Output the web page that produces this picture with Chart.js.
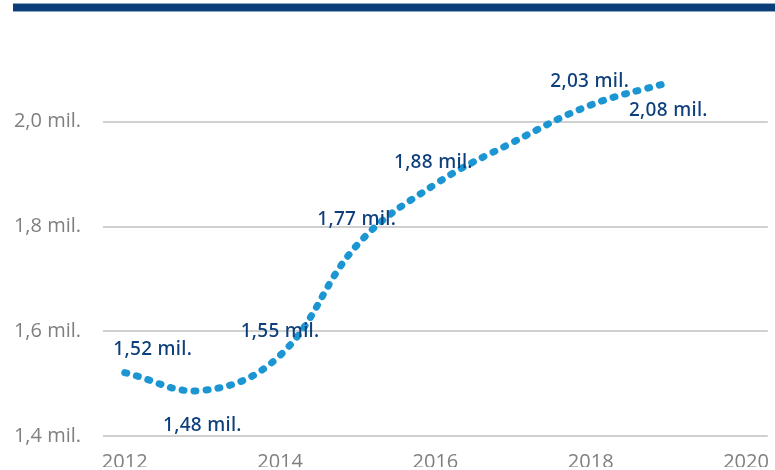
<!DOCTYPE html>
<html>
<head>
<meta charset="utf-8">
<script src="https://cdn.jsdelivr.net/npm/chart.js@4"></script>
<style>
  html, body { margin: 0; padding: 0; background: #fff; }
  #wrap { position: relative; width: 775px; height: 470px; }
  #topbar { position: absolute; left: 13px; top: 4px; width: 762px; height: 7px;
    background: #0b3d78; box-shadow: 0 -1px 0 #8aa6c8, 0 1px 0 #8aa6c8; }
</style>
</head>
<body>
<div id="wrap">
  <div id="topbar"></div>
  <canvas id="chart" width="775" height="470"></canvas>
</div>
<script>
// population, millions
const years = [2012, 2013, 2014, 2015, 2016, 2017, 2018, 2019];
const values = [1.521, 1.487, 1.554, 1.766, 1.881, 1.961, 2.032, 2.075];
const pointLabels = ["1,52 mil.", "1,48 mil.", "1,55 mil.", "1,77 mil.", "1,88 mil.", null, "2,03 mil.", "2,08 mil."];
const xTicks = [2012, 2014, 2016, 2018, 2020];
const yTicks = [1.4, 1.6, 1.8, 2.0];

// simple label drawer, since no datalabels plugin is around
const valueLabels = {
  id: "valueLabels",
  afterDatasetsDraw(chart, args, opts) {
    const ctx = chart.ctx;
    const meta = chart.getDatasetMeta(0);
    ctx.save();
    ctx.font = opts.font;
    ctx.fillStyle = opts.color;
    ctx.textAlign = "center";
    ctx.textBaseline = "middle";
    if ("letterSpacing" in ctx) ctx.letterSpacing = opts.spacing;
    meta.data.forEach((pt, i) => {
      const txt = pointLabels[i];
      if (!txt) return;
      const off = opts.offsets[i] || [0, -23];
      ctx.fillText(txt, pt.x + off[0], pt.y + off[1]);
    });
    ctx.restore();
  }
};

new Chart(document.getElementById("chart"), {
  type: "line",
  data: {
    datasets: [{
      data: years.map((y, i) => ({ x: y, y: values[i] })),
      borderColor: "#1b96d2",
      borderWidth: 7,
      borderCapStyle: "round",
      borderDash: [2, 10],
      tension: 0.4,
      pointRadius: 0,
      fill: false
    }]
  },
  options: {
    responsive: false,
    animation: false,
    layout: { padding: { top: 38, right: 3, left: 0, bottom: 0 } },
    plugins: {
      legend: { display: false },
      tooltip: { enabled: false },
      valueLabels: {
        font: "500 19px 'Noto Sans'",
        color: "#0d3f7c",
        spacing: "0.3px",
        offsets: [[28, -23], [0, 35], [0, -24], [-1, -25], [-2, -22], null, [-1, -23], [0, 28]]
      }
    },
    scales: {
      x: {
        type: "linear",
        min: 2011.72,
        max: 2020.28,
        afterBuildTicks: s => { s.ticks = xTicks.map(v => ({ value: v })); },
        afterFit: s => { s.height = 31; },
        grid: { display: false },
        border: { display: false },
        ticks: {
          padding: 6,
          color: "#7f7f7f",
          font: { family: "'Open Sans'", size: 20 },
          callback: v => String(v)
        }
      },
      y: {
        min: 1.4,
        max: 2.16,
        afterBuildTicks: s => { s.ticks = yTicks.map(v => ({ value: v })); },
        afterFit: s => { s.width = 103; },
        grid: { color: "#d0d0d0", lineWidth: 2, drawTicks: false },
        border: { display: false },
        ticks: {
          padding: 22,
          color: "#7f7f7f",
          font: { family: "'Open Sans'", size: 20 },
          callback: v => v.toFixed(1).replace(".", ",") + " mil."
        }
      }
    }
  },
  plugins: [valueLabels]
});
</script>
</body>
</html>
